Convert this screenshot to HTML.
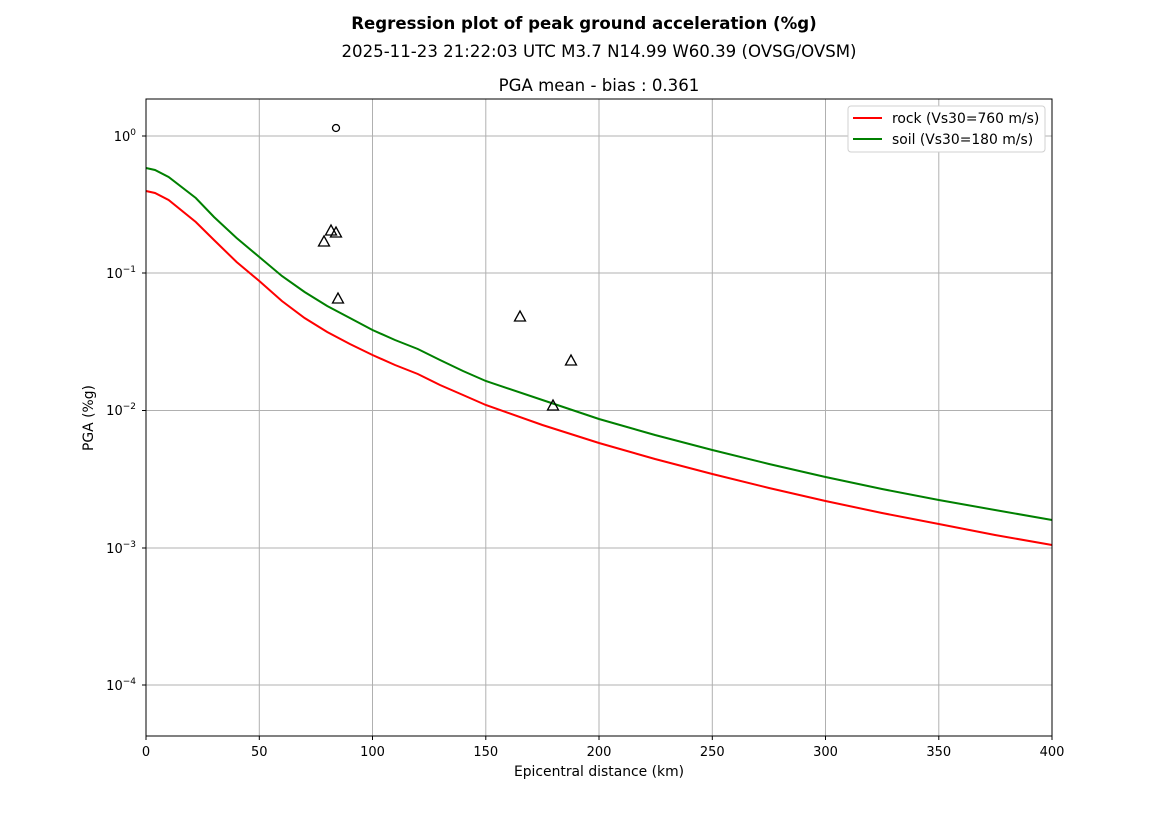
<!DOCTYPE html>
<html><head><meta charset="utf-8"><style>
body{margin:0;background:#fff;}
svg text{font-family:"DejaVu Sans","Liberation Sans",sans-serif;fill:#000;}
</style></head><body>
<svg width="1169" height="827" viewBox="0 0 1169 827" xmlns="http://www.w3.org/2000/svg">
<rect width="1169" height="827" fill="#fff"/>
<text x="584" y="29" font-size="16.6" font-weight="bold" text-anchor="middle">Regression plot of peak ground acceleration (%g)</text>
<text x="599" y="57" font-size="16.6" text-anchor="middle">2025-11-23 21:22:03 UTC M3.7 N14.99 W60.39 (OVSG/OVSM)</text>
<text x="599" y="91" font-size="16.6" text-anchor="middle">PGA mean - bias : 0.361</text>
<g stroke="#b0b0b0" stroke-width="1">
<line x1="259.3" y1="99" x2="259.3" y2="736"/><line x1="372.5" y1="99" x2="372.5" y2="736"/>
<line x1="485.8" y1="99" x2="485.8" y2="736"/><line x1="599" y1="99" x2="599" y2="736"/>
<line x1="712.3" y1="99" x2="712.3" y2="736"/><line x1="825.5" y1="99" x2="825.5" y2="736"/>
<line x1="938.8" y1="99" x2="938.8" y2="736"/>
<line x1="146" y1="136" x2="1052" y2="136"/><line x1="146" y1="273" x2="1052" y2="273"/>
<line x1="146" y1="410.5" x2="1052" y2="410.5"/><line x1="146" y1="548" x2="1052" y2="548"/>
<line x1="146" y1="685" x2="1052" y2="685"/>
</g>
<g fill="none" stroke-width="2">
<polyline stroke="#ff0000" points="146,191 155,193 168.6,200 195.8,222 214,240 236.6,262 259.3,281 281.9,301 304.6,318 327.2,332 349.9,344 372.5,355 395,365 417.8,374 440,385 463,395 485.8,405 542.4,425 599,443 655,459 712.3,474 769,488 825.5,501 882,513 938.8,524 995,535 1052,545"/>
<polyline stroke="#008000" points="146,168 155,170 168.6,177 195.8,198 214,217 236.6,238 259.3,257 281.9,276 304.6,292 327.2,306 349.9,318 372.5,330 395,340 417.8,349 440,360 463,371 485.8,381 542.4,400 599,419 655,435 712.3,450 769,464 825.5,477 882,489 938.8,500 995,510 1052,520"/>
</g>
<circle cx="336" cy="128" r="3.5" fill="none" stroke="#000" stroke-width="1.3"/>
<g fill="none" stroke="#000" stroke-width="1.3">
<polygon points="331,225 336.5,235 325.5,235"/>
<polygon points="336,227 341.5,237 330.5,237"/>
<polygon points="324,236 329.5,246 318.5,246"/>
<polygon points="338,293 343.5,303 332.5,303"/>
<polygon points="520,311 525.5,321 514.5,321"/>
<polygon points="571,355 576.5,365 565.5,365"/>
<polygon points="553,400 558.5,410 547.5,410"/>
</g>
<rect x="146" y="99" width="906" height="637" fill="none" stroke="#000" stroke-width="1"/>
<g stroke="#000" stroke-width="1">
<line x1="146" y1="736" x2="146" y2="740"/><line x1="259.3" y1="736" x2="259.3" y2="740"/>
<line x1="372.5" y1="736" x2="372.5" y2="740"/><line x1="485.8" y1="736" x2="485.8" y2="740"/>
<line x1="599" y1="736" x2="599" y2="740"/><line x1="712.3" y1="736" x2="712.3" y2="740"/>
<line x1="825.5" y1="736" x2="825.5" y2="740"/><line x1="938.8" y1="736" x2="938.8" y2="740"/>
<line x1="1052" y1="736" x2="1052" y2="740"/>
<line x1="142" y1="136" x2="146" y2="136"/><line x1="142" y1="273" x2="146" y2="273"/>
<line x1="142" y1="410.5" x2="146" y2="410.5"/><line x1="142" y1="548" x2="146" y2="548"/>
<line x1="142" y1="685" x2="146" y2="685"/>
</g>
<g stroke="#000" stroke-width="0.8" id="minor"></g>
<script>
var g=document.getElementById('minor'),s='';
[136,273,410.5,548,685,822.3].forEach(function(b){for(var k=2;k<10;k++){var y=b-137.3*Math.log10(k);if(y>99&&y<736)s+='<line x1="144" x2="146" y1="'+y+'" y2="'+y+'"/>';}});
g.innerHTML=s;
</script>
<g font-size="13" text-anchor="middle">
<text x="146" y="756">0</text><text x="259.3" y="756">50</text><text x="372.5" y="756">100</text>
<text x="485.8" y="756">150</text><text x="599" y="756">200</text><text x="712.3" y="756">250</text>
<text x="825.5" y="756">300</text><text x="938.8" y="756">350</text><text x="1052" y="756">400</text>
</g>
<g font-size="13" text-anchor="end">
<text x="136" y="141">10<tspan font-size="9" dy="-6">0</tspan></text>
<text x="136" y="278">10<tspan font-size="9" dy="-6">−1</tspan></text>
<text x="136" y="415">10<tspan font-size="9" dy="-6">−2</tspan></text>
<text x="136" y="553">10<tspan font-size="9" dy="-6">−3</tspan></text>
<text x="136" y="690">10<tspan font-size="9" dy="-6">−4</tspan></text>
</g>
<text x="599" y="776" font-size="13.9" text-anchor="middle">Epicentral distance (km)</text>
<text x="93" y="418" font-size="13.9" text-anchor="middle" transform="rotate(-90 93 418)">PGA (%g)</text>
<rect x="848" y="106" width="197" height="46" rx="3" fill="#fff" stroke="#d0d0d0"/>
<line x1="853" y1="118" x2="882" y2="118" stroke="#ff0000" stroke-width="2"/>
<line x1="853" y1="139" x2="882" y2="139" stroke="#008000" stroke-width="2"/>
<text x="892" y="123" font-size="13.9">rock (Vs30=760 m/s)</text>
<text x="892" y="144" font-size="13.9">soil (Vs30=180 m/s)</text>
</svg>
</body></html>
